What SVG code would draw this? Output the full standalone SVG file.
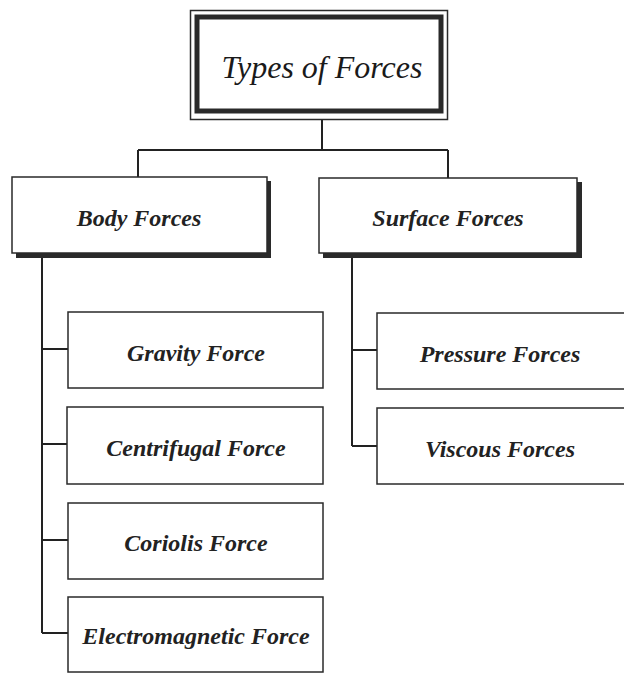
<svg xmlns="http://www.w3.org/2000/svg" width="624" height="674" viewBox="0 0 624 674">
  <style>
    .box { fill: #fff; stroke: #2a2a2a; stroke-width: 1.5; }
    .shadow { fill: #2a2a2a; }
    .link { fill: none; stroke: #222; stroke-width: 2; }
    .label { font-family: "Liberation Serif", "Times New Roman", serif; font-style: italic; font-weight: bold; font-size: 24px; fill: #222; text-anchor: middle; }
    .title { font-family: "Liberation Serif", "Times New Roman", serif; font-style: italic; font-size: 32px; fill: #1a1a1a; text-anchor: middle; }
  </style>
  <rect width="624" height="674" fill="#fff"/>

  <!-- connectors -->
  <g id="connectors">
    <path class="link" d="M322 119 V150 M138 150 H448 M138 150 V177 M448 150 V178"/>
    <path class="link" d="M42 257 V633 M42 349 H68 M42 444 H67 M42 540 H68 M42 633 H68"/>
    <path class="link" d="M352 257 V446 M352 350 H377 M352 446 H377"/>
  </g>

  <!-- root -->
  <g id="types-of-forces">
    <rect x="190.5" y="10.5" width="257" height="109" fill="#fff" stroke="#2a2a2a" stroke-width="1.5"/>
    <rect x="197" y="17" width="244" height="94" fill="#fff" stroke="#2a2a2a" stroke-width="5"/>
    <text class="title" x="322" y="78">Types of Forces</text>
  </g>

  <g id="body-forces">
    <rect class="shadow" x="16" y="181" width="255" height="77"/>
    <rect class="box" x="12" y="177" width="255" height="76"/>
    <text class="label" x="139" y="226">Body Forces</text>
  </g>

  <g id="surface-forces">
    <rect class="shadow" x="323" y="182" width="259" height="76"/>
    <rect class="box" x="319" y="178" width="258" height="75"/>
    <text class="label" x="448" y="226">Surface Forces</text>
  </g>

  <g id="gravity-force">
    <rect class="box" x="68" y="312" width="255" height="76"/>
    <text class="label" x="196" y="361">Gravity Force</text>
  </g>

  <g id="centrifugal-force">
    <rect class="box" x="67" y="407" width="256" height="77"/>
    <text class="label" x="196" y="456">Centrifugal Force</text>
  </g>

  <g id="coriolis-force">
    <rect class="box" x="68" y="503" width="255" height="76"/>
    <text class="label" x="196" y="551">Coriolis Force</text>
  </g>

  <g id="electromagnetic-force">
    <rect class="box" x="68" y="597" width="255" height="75"/>
    <text class="label" x="196" y="644">Electromagnetic Force</text>
  </g>

  <g id="pressure-forces">
    <rect class="box" x="377" y="313" width="260" height="76"/>
    <text class="label" x="500" y="362">Pressure Forces</text>
  </g>

  <g id="viscous-forces">
    <rect class="box" x="377" y="408" width="260" height="76"/>
    <text class="label" x="500" y="457">Viscous Forces</text>
  </g>
</svg>
